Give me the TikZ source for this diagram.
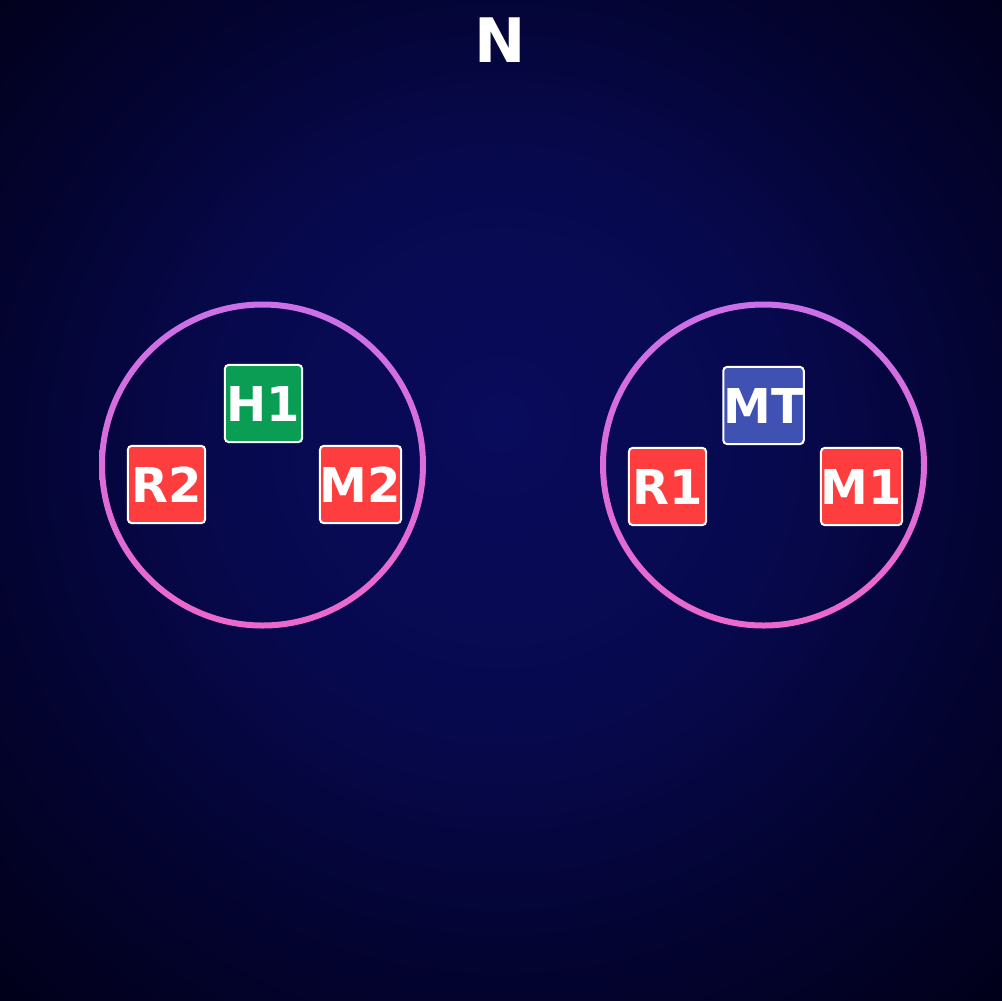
\documentclass[tikz,border=0pt]{standalone}
\usepackage{fontspec}
\setmainfont{DejaVu Sans}
\usetikzlibrary{shadings}
\definecolor{bgA}{RGB}{9,11,92}
\definecolor{bgM}{RGB}{7,9,78}
\definecolor{bgB}{RGB}{4,4,52}
\definecolor{bgC}{RGB}{1,0,26}
\definecolor{ringTop}{RGB}{204,112,232}
\definecolor{ringBot}{RGB}{236,104,204}
\definecolor{redbox}{RGB}{254,62,62}
\definecolor{greenbox}{RGB}{10,158,85}
\definecolor{bluebox}{RGB}{63,81,178}
\pgfdeclareradialshading{bgshade}{\pgfpoint{0bp}{4bp}}{%
  color(0bp)=(bgA); color(14bp)=(bgM); color(24bp)=(bgB); color(36bp)=(bgC); color(50bp)=(bgC)}
\tikzset{
  tile/.style={draw=white, line width=1.5pt, rounded corners=3pt,
    minimum width=58pt, minimum height=58pt, inner sep=0pt,
    text=white, font=\fontsize{36}{36}\selectfont\bfseries},
  redtile/.style={tile, fill=redbox},
  greentile/.style={tile, fill=greenbox},
  bluetile/.style={tile, fill=bluebox},
}
\begin{document}
\begin{tikzpicture}[x=0.75pt,y=-0.75pt]
\useasboundingbox (0,0) rectangle (1002,1000);
\shade[shading=bgshade] (0,0) rectangle (1002,1000);
% rings
\shade[top color=ringTop, bottom color=ringBot, even odd rule]
  (262.5,465) circle (163.5) (262.5,465) circle (157.5);
\shade[top color=ringTop, bottom color=ringBot, even odd rule]
  (763.5,465) circle (163.5) (763.5,465) circle (157.5);
% title
\node[text=white, font=\fontsize{46}{46}\selectfont\bfseries] (title) at (500,40) {N};
% left group
\node[greentile] (H1) at (263.5,403.5) {H1};
\node[redtile] (R2) at (166.5,484.5) {R2};
\node[redtile] (M2) at (360.5,484.5) {M2};
% right group
\node[bluetile] (MT) at (763.5,405.5) {MT};
\node[redtile] (R1) at (667.5,486.5) {R1};
\node[redtile] (M1) at (861.5,486.5) {M1};
\end{tikzpicture}
\end{document}
